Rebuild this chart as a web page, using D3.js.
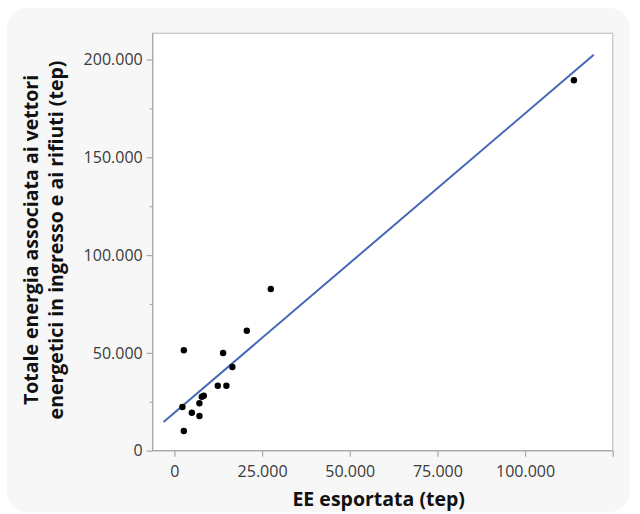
<!DOCTYPE html>
<html>
<head>
<meta charset="utf-8">
<script src="https://cdn.jsdelivr.net/npm/d3@7/dist/d3.min.js"></script>
<style>
  html, body { margin: 0; padding: 0; background: #ffffff; }
  svg { display: block; }
  .tick text { font-family: "Open Sans", "Noto Sans", sans-serif; font-size: 16px; fill: #3a3a3a; }
  .title { font-family: "Open Sans", "Noto Sans", sans-serif; font-size: 19.5px; font-weight: 700; fill: #111; }
</style>
</head>
<body>
<svg id="chart" width="640" height="514"></svg>
<script>
// EE esportata (tep) for each plant
const exportedEE = [113940, 27480, 20640, 2680, 13880, 16530, 12370, 14820, 8380, 7810, 7130, 2280, 4960, 7130, 2680];
// Totale energia associata ai vettori energetici in ingresso e ai rifiuti (tep)
const totalEnergy = [189370, 82670, 61350, 51330, 49950, 42790, 33230, 33230, 28120, 27610, 24230, 22340, 19430, 17740, 10070];

const xTicks = [0, 25000, 50000, 75000, 100000];
const xEdgeTick = [125000];
const yTicks = [0, 50000, 100000, 150000, 200000];
const yMinorTicks = [25000, 75000, 125000, 175000];
const xDomain = [-6200, 125000];
const yDomain = [0, 213400];
const fitSpan = [-3100, 119600];

const xTitle = "EE esportata (tep)";
const yTitleLines = ["Totale energia associata ai vettori", "energetici in ingresso e ai rifiuti (tep)"];

const svg = d3.select("#chart");
const plot = { left: 152.7, top: 33.3, right: 612.7, bottom: 450.7 };

// Italian number formatting: 200.000
const it = d3.formatLocale({ decimal: ",", thousands: ".", grouping: [3], currency: ["€", ""] });
const fmt = it.format(",d");

// light card behind the chart
svg.append("rect")
  .attr("x", 7).attr("y", 8).attr("width", 623).attr("height", 504)
  .attr("rx", 20).attr("ry", 20)
  .attr("fill", "#f7f7f7");

const x = d3.scaleLinear().domain(xDomain).range([plot.left, plot.right]);
const y = d3.scaleLinear().domain(yDomain).range([plot.bottom, plot.top]);

// plot area
svg.append("rect")
  .attr("x", plot.left).attr("y", plot.top)
  .attr("width", plot.right - plot.left).attr("height", plot.bottom - plot.top)
  .attr("fill", "#ffffff")
  .attr("stroke", "#c4c4c4").attr("stroke-width", 1.2);

// axes
const xAxis = svg.append("g")
  .attr("transform", `translate(0,${plot.bottom})`)
  .call(d3.axisBottom(x).tickValues(xTicks).tickFormat(fmt).tickSize(6).tickPadding(5));
const xEdge = svg.append("g")
  .attr("transform", `translate(0,${plot.bottom})`)
  .call(d3.axisBottom(x).tickValues(xEdgeTick).tickFormat("").tickSize(6));

const yAxis = svg.append("g")
  .attr("transform", `translate(${plot.left},0)`)
  .call(d3.axisLeft(y).tickValues(yTicks).tickFormat(fmt).tickSize(6).tickPadding(4));
const yMinor = svg.append("g")
  .attr("transform", `translate(${plot.left},0)`)
  .call(d3.axisLeft(y).tickValues(yMinorTicks).tickFormat("").tickSize(3));

[xAxis, xEdge, yAxis, yMinor].forEach(g => {
  g.select(".domain").remove();
  g.selectAll(".tick line").attr("stroke", "#a8a8a8").attr("stroke-width", 1.2);
});
xAxis.selectAll(".tick text").attr("dy", "0.95em");

// left and bottom axis lines
svg.append("line")
  .attr("x1", plot.left).attr("x2", plot.left)
  .attr("y1", plot.top).attr("y2", plot.bottom)
  .attr("stroke", "#a8a8a8").attr("stroke-width", 1.2);
svg.append("line")
  .attr("x1", plot.left).attr("x2", plot.right)
  .attr("y1", plot.bottom).attr("y2", plot.bottom)
  .attr("stroke", "#a8a8a8").attr("stroke-width", 1.2);

// least-squares fit line
const n = exportedEE.length;
const mx = d3.mean(exportedEE), my = d3.mean(totalEnergy);
let sxy = 0, sxx = 0;
for (let i = 0; i < n; i++) {
  sxy += (exportedEE[i] - mx) * (totalEnergy[i] - my);
  sxx += (exportedEE[i] - mx) ** 2;
}
const slope = sxy / sxx, intercept = my - slope * mx;
svg.append("line")
  .attr("x1", x(fitSpan[0])).attr("y1", y(intercept + slope * fitSpan[0]))
  .attr("x2", x(fitSpan[1])).attr("y2", y(intercept + slope * fitSpan[1]))
  .attr("stroke", "#4567b7").attr("stroke-width", 2);

// points
svg.append("g").selectAll("circle")
  .data(exportedEE.map((v, i) => [v, totalEnergy[i]]))
  .join("circle")
  .attr("cx", d => x(d[0])).attr("cy", d => y(d[1]))
  .attr("r", 3.2).attr("fill", "#000");

// axis titles
svg.append("text").attr("class", "title")
  .attr("x", (plot.left + plot.right) / 2 - 4).attr("y", 506)
  .attr("text-anchor", "middle").text(xTitle);

const yt = svg.append("text").attr("class", "title")
  .attr("transform", `translate(0,${(plot.top + plot.bottom) / 2 - 2}) rotate(-90)`)
  .attr("text-anchor", "middle");
yt.selectAll("tspan").data(yTitleLines).join("tspan")
  .attr("x", 0).attr("y", (d, i) => 38 + i * 25).text(d => d);
</script>
</body>
</html>
